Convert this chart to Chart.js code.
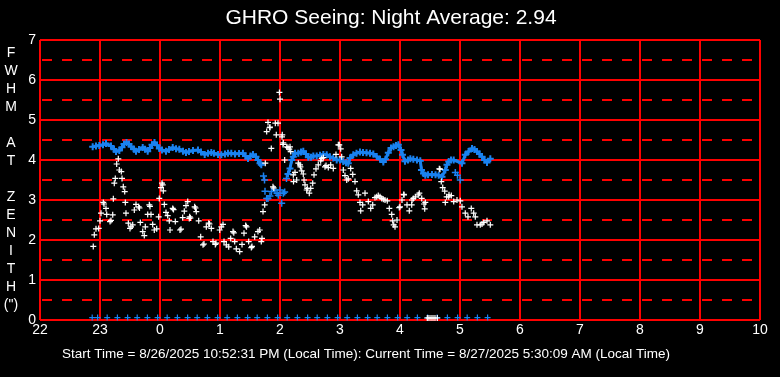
<!DOCTYPE html>
<html>
<head>
<meta charset="utf-8">
<title>GHRO Seeing</title>
<script src="https://cdn.jsdelivr.net/npm/chart.js@4.4.1/dist/chart.umd.min.js"></script>
<style>
  html, body { margin: 0; padding: 0; background: #000; overflow: hidden; }
  canvas { display: block; }
</style>
</head>
<body>
<canvas id="graficoSeeing" width="780" height="377"></canvas>
<script>
// times are hours since the previous midnight (24 = 0h, 29.5 = 5:30)
const titleText = 'GHRO Seeing: Night Average: 2.94';
const footerText = 'Start Time = 8/26/2025 10:52:31 PM (Local Time): Current Time = 8/27/2025 5:30:09 AM (Local Time)';
const axisLetters = ['F', 'W', 'H', 'M', '', 'A', 'T', '', 'Z', 'E', 'N', 'I', 'T', 'H', '(")'];

// white crosses: seeing
const seeing = [
  [22.888,1.84],[22.905,2.13],[22.933,2.28],[22.978,2.29],[23.00,2.48],[23.017,2.67],[23.055,2.94],[23.067,2.90],
  [23.10,2.79],[23.112,2.64],[23.167,2.46],[23.183,2.49],[23.212,2.63],[23.222,3.03],[23.238,3.42],[23.255,3.54],
  [23.278,3.90],[23.305,4.03],[23.322,3.75],[23.355,3.71],[23.367,3.54],[23.388,3.33],[23.412,3.21],[23.422,2.94],
  [23.433,2.67],[23.472,2.42],[23.50,2.29],[23.517,2.33],[23.545,2.38],[23.572,2.75],[23.60,2.89],[23.645,2.83],
  [23.658,2.80],[23.672,2.44],[23.712,2.21],[23.738,2.11],[23.755,2.33],[23.795,2.64],[23.822,2.88],[23.833,2.84],
  [23.85,2.64],[23.878,2.39],[23.905,2.25],[23.945,2.28],[23.978,2.58],[23.988,3.04],[24.017,3.31],[24.033,3.42],
  [24.045,3.38],[24.055,3.23],[24.072,2.89],[24.10,2.69],[24.128,2.61],[24.155,2.48],[24.167,2.25],[24.212,2.79],
  [24.225,2.76],[24.255,2.46],[24.333,2.25],[24.35,2.27],[24.378,2.56],[24.405,2.72],[24.433,2.86],[24.462,2.96],
  [24.488,2.54],[24.495,2.58],[24.508,2.55],[24.578,2.83],[24.592,2.80],[24.605,2.71],[24.645,2.48],[24.678,2.08],
  [24.717,1.88],[24.733,1.90],[24.772,2.33],[24.812,2.42],[24.825,2.40],[24.855,2.29],[24.883,1.96],[24.922,1.89],
  [24.933,1.92],[24.995,2.25],[25.022,2.33],[25.05,2.39],[25.067,1.96],[25.105,1.88],[25.145,1.83],[25.178,2.04],
  [25.217,2.21],[25.23,2.18],[25.245,1.96],[25.272,1.78],[25.328,1.71],[25.367,1.89],[25.40,2.17],[25.428,2.36],
  [25.442,2.33],[25.478,1.96],[25.522,1.81],[25.533,1.84],[25.578,2.08],[25.633,2.21],[25.662,2.25],[25.688,1.96],
  [25.70,2.04],[25.717,2.71],[25.745,2.88],[25.755,3.92],[25.778,4.71],[25.80,4.94],[25.828,4.81],[25.833,4.82],
  [25.855,4.29],[25.883,3.33],[25.897,3.30],[25.922,4.92],[25.938,4.63],[25.967,4.92],[25.99,5.69],[26.00,5.52],
  [26.033,4.58],[26.038,4.63],[26.05,4.39],[26.055,4.43],[26.078,4.00],[26.112,4.33],[26.133,4.31],[26.155,4.27],
  [26.167,4.33],[26.178,4.21],[26.222,3.63],[26.225,3.46],[26.25,3.69],[26.278,3.50],[26.305,3.92],[26.333,3.88],
  [26.34,3.83],[26.362,3.73],[26.388,3.65],[26.40,3.50],[26.417,3.38],[26.445,3.25],[26.455,3.29],[26.488,3.17],
  [26.512,3.29],[26.545,3.42],[26.567,3.63],[26.60,3.78],[26.638,3.88],[26.678,3.98],[26.695,4.04],[26.722,4.06],
  [26.75,3.83],[26.767,3.86],[26.805,3.81],[26.845,3.88],[26.888,3.79],[26.933,4.14],[26.972,4.38],[26.988,4.38],
  [27.012,4.28],[27.028,4.08],[27.055,3.75],[27.083,3.61],[27.112,3.50],[27.138,3.53],[27.178,3.79],[27.212,3.64],
  [27.25,3.46],[27.278,3.23],[27.305,3.13],[27.333,2.94],[27.345,2.73],[27.378,2.88],[27.417,3.17],[27.472,2.96],
  [27.512,2.79],[27.545,2.88],[27.583,3.06],[27.612,3.08],[27.638,3.11],[27.667,3.08],[27.695,3.04],[27.722,3.02],
  [27.75,3.00],[27.788,2.98],[27.822,2.79],[27.862,2.64],[27.878,2.48],[27.895,2.38],[27.917,2.33],[27.95,2.50],
  [27.988,2.81],[28.00,2.83],[28.033,3.00],[28.062,3.14],[28.067,3.13],[28.117,2.88],[28.155,2.73],[28.195,2.88],
  [28.20,3.00],[28.222,3.04],[28.255,3.08],[28.305,3.13],[28.322,3.17],[28.362,3.04],[28.40,2.90],[28.412,2.78],
  [28.422,2.94],[28.655,3.78],[28.667,3.77],[28.688,3.46],[28.712,3.31],[28.745,3.22],[28.755,2.94],[28.778,3.08],
  [28.812,3.08],[28.817,3.13],[28.855,3.11],[28.895,2.96],[28.95,3.00],[29.005,2.98],[29.033,2.83],[29.088,2.67],
  [29.133,2.58],[29.188,2.79],[29.228,2.67],[29.255,2.58],[29.283,2.38],[29.338,2.38],[29.367,2.40],[29.395,2.44],
  [29.45,2.48],[29.505,2.38]
];
// white crosses sitting on the bottom axis (dropouts)
const seeingDropouts = [[28.455,0.05],[28.483,0.05],[28.517,0.05],[28.55,0.05],[28.583,0.05],[28.622,0.05]];

// blue crosses: FWHM trace, before and after the scattered stretch
const fwhmEarly = [
  [22.878,4.33],[22.933,4.35],[22.988,4.36],[23.05,4.38],[23.10,4.41],[23.183,4.35],[23.233,4.27],[23.267,4.21],
  [23.322,4.24],[23.367,4.32],[23.40,4.40],[23.442,4.44],[23.483,4.40],[23.517,4.34],[23.567,4.27],[23.60,4.22],
  [23.65,4.26],[23.712,4.31],[23.75,4.27],[23.795,4.22],[23.833,4.30],[23.867,4.38],[23.908,4.44],[23.95,4.37],
  [23.988,4.29],[24.033,4.25],[24.10,4.22],[24.15,4.26],[24.212,4.31],[24.267,4.28],[24.322,4.27],[24.383,4.22],
  [24.433,4.19],[24.483,4.21],[24.55,4.24],[24.633,4.25],[24.683,4.20],[24.745,4.14],[24.80,4.17],[24.855,4.19],
  [24.90,4.17],[24.967,4.14],[25.022,4.13],[25.083,4.15],[25.133,4.17],[25.188,4.17],[25.25,4.15],[25.317,4.16],
  [25.383,4.17],[25.425,4.10],[25.467,4.04],[25.508,4.10],[25.55,4.14],[25.60,4.08],[25.633,4.00],[25.667,3.92],
  [25.688,3.88]
];
const fwhmLate = [
  [26.133,3.65],[26.167,3.79],[26.195,4.00],[26.222,4.08],[26.25,4.17],[26.305,4.17],[26.35,4.20],[26.388,4.22],
  [26.433,4.15],[26.472,4.07],[26.517,4.07],[26.555,4.10],[26.612,4.10],[26.667,4.12],[26.722,4.14],[26.778,4.13],
  [26.833,4.08],[26.888,4.05],[26.945,4.00],[27.00,4.00],[27.055,3.96],[27.10,3.93],[27.138,3.92],[27.167,4.05],
  [27.222,4.13],[27.275,4.17],[27.333,4.20],[27.383,4.19],[27.442,4.18],[27.50,4.17],[27.555,4.15],[27.612,4.09],
  [27.667,4.02],[27.722,3.95],[27.758,4.02],[27.805,4.18],[27.85,4.30],[27.892,4.33],[27.933,4.36],[27.972,4.38],
  [28.017,4.25],[28.042,4.13],[28.083,3.97],[28.133,4.00],[28.172,4.03],[28.222,4.02],[28.283,4.00],[28.338,3.98],
  [28.358,3.75],[28.392,3.66],[28.422,3.62],[28.467,3.63],[28.533,3.64],[28.592,3.63],[28.645,3.62],[28.70,3.58],
  [28.755,3.75],[28.783,3.88],[28.812,3.96],[28.85,4.00],[28.895,4.00],[29.033,3.92],[29.088,4.13],[29.142,4.21],
  [29.20,4.29],[29.242,4.26],[29.283,4.21],[29.325,4.15],[29.367,4.08],[29.408,4.00],[29.45,3.94],[29.505,4.03]
];
// blue crosses off the trace
const fwhmScattered = [
  [25.725,3.60],[25.742,3.50],[25.75,3.22],[25.778,3.04],[25.80,3.04],[25.833,3.10],[25.858,3.21],[25.917,3.25],
  [25.95,3.17],[25.972,3.12],[26.00,3.25],[26.028,2.92],[26.055,3.17],[26.078,3.20],[26.108,3.54],
  [28.922,3.69],[28.958,3.62],[29.005,3.50]
];
// blue crosses along the bottom, one per sample slot
const sampleMarks = [
  22.87, 22.96, 23.12, 23.29, 23.46, 23.62, 23.79, 23.96, 24.12, 24.29, 24.46, 24.62, 24.79, 24.96,
  25.12, 25.29, 25.46, 25.62, 25.79, 25.96, 26.12, 26.29, 26.46, 26.62, 26.79, 26.96, 27.12, 27.29,
  27.46, 27.62, 27.79, 27.96, 28.12, 28.29, 28.46, 28.62, 28.79, 28.96, 29.12, 29.29, 29.46
];
const sampleMarkValue = 0.06;

const fonte = '"Liberation Sans", Arial, sans-serif';
const azul = '#1a82f0';
const branco = '#ffffff';
const vermelho = '#ff0000';

function pontos(lista) {
    return lista.map(function (p) { return { x: p[0], y: p[1] }; });
}

// title, stacked y-axis label and footer
const textoExtra = {
    id: 'textoExtra',
    afterDraw(chart) {
        const ctx = chart.ctx;
        ctx.save();
        ctx.fillStyle = branco;
        ctx.textAlign = 'center';
        ctx.textBaseline = 'middle';
        ctx.font = '21px ' + fonte;
        ctx.fillText(titleText, 391, 18);
        ctx.font = '14px ' + fonte;
        axisLetters.forEach(function (letra, i) {
            if (letra) ctx.fillText(letra, 11, 53 + i * 18);
        });
        ctx.font = '13.5px ' + fonte;
        ctx.fillText(footerText, 366, 354);
        ctx.restore();
    }
};

document.addEventListener('DOMContentLoaded', function () {
    const ctx = document.getElementById('graficoSeeing');

    new Chart(ctx, {
        type: 'scatter',
        data: {
            datasets: [
                {
                    label: 'Seeing',
                    data: pontos(seeing).concat(pontos(seeingDropouts)),
                    pointStyle: 'cross',
                    pointRadius: 3,
                    borderColor: branco,
                    pointBorderWidth: 1.2,
                    clip: false
                },
                {
                    label: 'FWHM',
                    data: pontos(fwhmEarly).concat([{ x: 25.70, y: null }], pontos(fwhmLate)),
                    showLine: true,
                    spanGaps: false,
                    borderColor: azul,
                    borderWidth: 3,
                    pointStyle: 'cross',
                    pointRadius: 3.5,
                    pointBorderWidth: 2,
                    clip: false
                },
                {
                    label: 'FWHM scattered',
                    data: pontos(fwhmScattered),
                    borderColor: azul,
                    pointStyle: 'cross',
                    pointRadius: 3.5,
                    pointBorderWidth: 1.5,
                    clip: false
                },
                {
                    label: 'Samples',
                    data: sampleMarks.map(function (t) { return { x: t, y: sampleMarkValue }; }),
                    borderColor: azul,
                    pointStyle: 'cross',
                    pointRadius: 3,
                    pointBorderWidth: 1.2,
                    clip: false
                }
            ]
        },
        options: {
            responsive: false,
            animation: false,
            events: [],
            layout: {
                padding: { top: 40, right: 20, bottom: 0, left: 0 }
            },
            plugins: {
                legend: { display: false },
                tooltip: { enabled: false },
                title: { display: false }
            },
            scales: {
                x: {
                    type: 'linear',
                    min: 22,
                    max: 34,
                    afterFit: function (scale) { scale.height = 57; },
                    ticks: {
                        stepSize: 1,
                        autoSkip: false,
                        maxRotation: 0,
                        padding: 2,
                        color: branco,
                        font: { family: fonte, size: 14 },
                        callback: function (v) { return String(v % 24); }
                    },
                    grid: { color: vermelho, lineWidth: 2, drawTicks: false },
                    border: { display: false }
                },
                y: {
                    min: 0,
                    max: 7,
                    afterFit: function (scale) { scale.width = 40; },
                    ticks: {
                        stepSize: 0.5,
                        autoSkip: false,
                        padding: 4,
                        color: branco,
                        font: { family: fonte, size: 14 },
                        callback: function (v) { return v % 1 === 0 ? String(v) : ''; }
                    },
                    grid: { color: vermelho, lineWidth: 2, drawTicks: false },
                    border: {
                        display: false,
                        dash: function (c) {
                            return c.tick && c.tick.value % 1 !== 0 ? [10, 10] : [];
                        },
                        dashOffset: -2
                    }
                }
            }
        },
        plugins: [textoExtra]
    });
});
</script>
</body>
</html>
